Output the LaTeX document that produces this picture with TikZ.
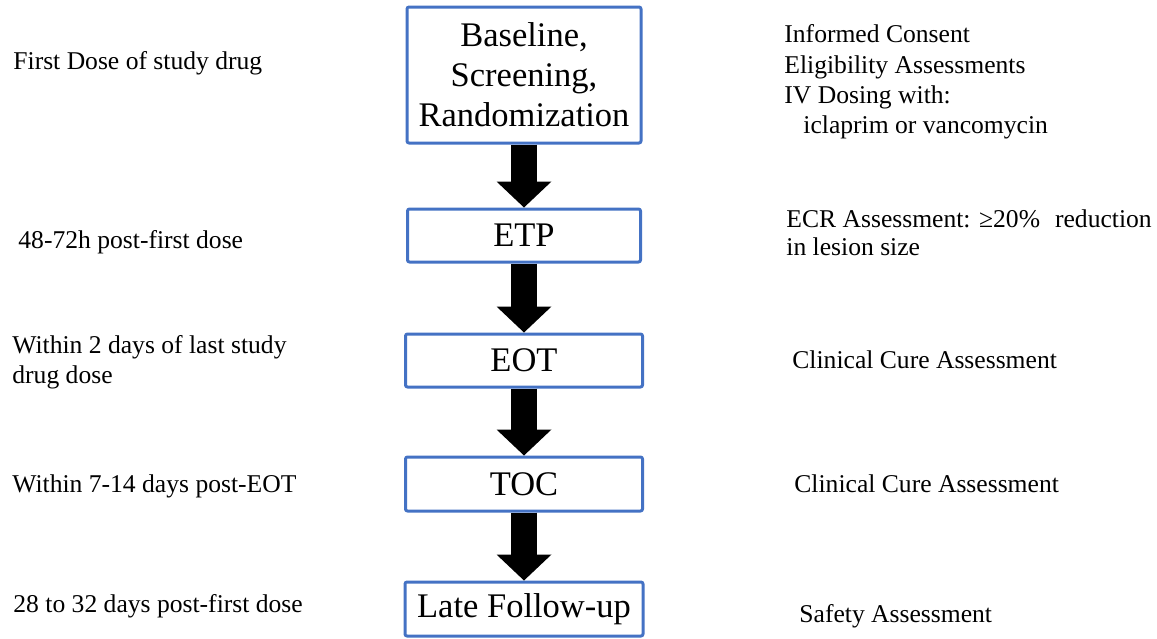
\documentclass[tikz,border=0pt]{standalone}
\usepackage{fontspec}
\setmainfont{Liberation Serif}
\usetikzlibrary{arrows.meta}
\definecolor{boxblue}{HTML}{4472C4}
\tikzset{
  stage/.style={draw=boxblue, line width=1.5pt, rounded corners=1pt, fill=white,
    align=center, inner sep=0pt, font=\fontsize{17.25pt}{20pt}\selectfont},
  note/.style={anchor=base west, inner sep=0pt, font=\fontsize{12.8pt}{15.5pt}\selectfont},
  bigarrow/.style={line width=13pt, -{Triangle[width=27.5pt,length=13pt,line width=0pt]}}
}
\begin{document}
\begin{tikzpicture}[x=0.5pt, y=-0.5pt, line join=round]
\useasboundingbox (0,0) rectangle (1157,638);
%\draw[gray!50] (0,0) grid[step=50] (1157,638);
% stages
\node[stage, minimum width=117pt, minimum height=68pt] (base) at (524,75) {Baseline,\\Screening,\\Randomization};
\node[stage, minimum width=116.5pt, minimum height=26.5pt] (etp) at (524,235.5) {ETP};
\node[stage, minimum width=118.5pt, minimum height=26.5pt] (eot) at (524,360.5) {EOT};
\node[stage, minimum width=118.5pt, minimum height=27pt] (toc) at (524,484) {TOC};
\node[stage, minimum width=119pt, minimum height=27pt] (late) at (524,609) {Late Follow-up};
\foreach \a/\b in {base/etp, etp/eot, eot/toc, toc/late}
  \draw[bigarrow] (\a.south) -- (\b.north);
% timing
\node[note] (t1) at (13,69) {First Dose of study drug};
\node[note] (t2) at (18,248) {48-72h post-first dose};
\node[note] (t3) at (12,353) {Within 2 days of last study};
\node[note] (t3b) at (12,383) {drug dose};
\node[note] (t4) at (12,492) {Within 7-14 days post-EOT};
\node[note] (t5) at (13,612) {28 to 32 days post-first dose};
% assessments
\node[note] (a1) at (784,42) {Informed Consent};
\node[note] (a1b) at (784,73) {Eligibility Assessments};
\node[note] (a1c) at (784,103) {IV Dosing with:};
\node[note] (a1d) at (803,133) {iclaprim or vancomycin};
\node[note] (a2) at (786,227) {ECR Assessment: ≥20\%\hspace{7.5pt}reduction};
\node[note] (a2b) at (786,255) {in lesion size};
\node[note] (a3) at (792,368) {Clinical Cure Assessment};
\node[note] (a4) at (794,492) {Clinical Cure Assessment};
\node[note] (a5) at (799,622) {Safety Assessment};
\end{tikzpicture}
\end{document}
